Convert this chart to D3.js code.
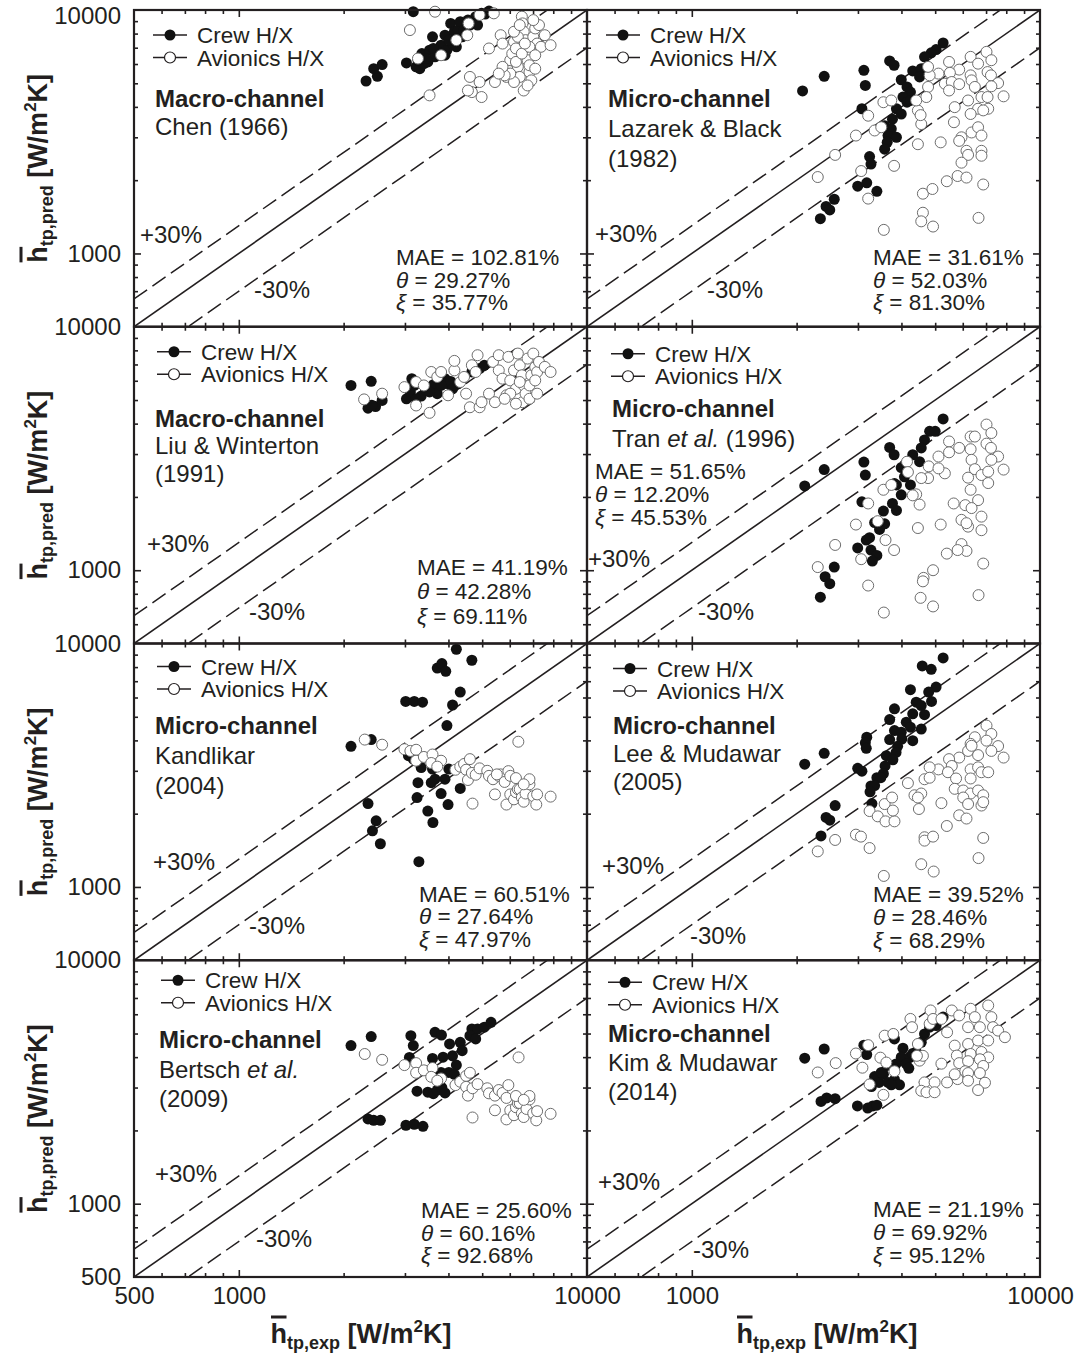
<!DOCTYPE html>
<html>
<head>
<meta charset="utf-8">
<style>
body { margin: 0; background: #fff; }
svg { display: block; }
svg text { font-family: "Liberation Sans", Arial, sans-serif; fill: #231f20; }
</style>
</head>
<body>
<svg width="1078" height="1358"></svg>
<script src="https://d3js.org/d3.v7.min.js"></script>
<script>

// ---- data: [h_exp, h_pred] in W/m2K ----
var crewChen = [[2320,5110],[2500,5340],[2440,5740],[2580,5970],[3030,6060],[3170,9840],[3230,5840],[3310,5740],[3355,6620],[3400,6020],[3530,6840],[3600,7760],[3660,6420],[3810,7170],[3910,7880],[3910,6520],[3960,6840],[4060,8810],[4110,7280],[4160,8140],[4270,8270],[4325,8950],[4380,7760],[4550,9090],[4610,8670],[4790,9390],[4850,8670],[4980,9690],[5100,9630],[5230,9900],[3270,6220],[3490,6120],[3715,6730],[4010,7520],[3440,6320],[4435,8270],[4215,7060],[3620,6950]];
var avioChen = [[3100,8270],[3660,9840],[3270,6320],[3810,6520],[4215,7520],[4530,7880],[4570,8810],[4915,9540],[5400,9690],[3530,4460],[4610,5310],[4670,4600],[4915,5060],[4980,4390],[4550,4670],[5230,6950],[5440,5060],[5650,7880],[5720,7280],[5870,5310],[5945,5650],[6020,6220],[6100,6620],[6170,7400],[6250,6950],[6330,5840],[6410,5310],[6500,9390],[6530,8810],[6580,8140],[6660,7520],[6750,6220],[6835,5560],[6920,5140],[7010,7760],[7100,8400],[7190,7280],[7280,8670],[7375,7060],[7565,7880],[7860,7170],[6580,4670],[6750,4900],[6170,5060],[6020,5480],[5800,5390],[6250,6120],[6500,6620],[6835,7060],[6330,7760],[6630,7280],[7100,6520],[6835,5930],[6170,8140],[7010,9090],[6410,8670],[5720,5840],[5580,5480],[7100,5740]];

var crewLazarek = [[2080,4650],[2400,5340],[3120,5650],[3150,4900],[3700,6180],[3810,5930],[3080,3930],[5270,7320],[5030,6880],[4870,6670],[4660,6420],[4310,5620],[4560,5740],[4510,5310],[3995,5170],[4150,4830],[4245,4600],[4040,4390],[4150,4180],[3870,3930],[3995,3740],[3770,3560],[3580,3350],[3740,3250],[3660,3050],[3870,3000],[3640,2860],[3580,2680],[3240,2500],[3270,2330],[2995,1890],[3180,1950],[3400,1800],[2565,1670],[2430,1560],[2490,1510],[2340,1390],[4245,4250]];
var avioLazarek = [[7020,6730],[7250,6220],[6320,6420],[5480,6120],[5860,5690],[6640,6020],[5110,5480],[5510,5520],[6320,5390],[7070,5560],[7230,5390],[7580,5010],[7860,4420],[6360,5140],[6500,4830],[7250,4860],[5330,4980],[5580,5060],[6790,4390],[7070,4390],[6215,4250],[6640,3930],[7100,3930],[5690,3990],[6320,3740],[6870,3870],[4770,4830],[4715,4390],[4460,3865],[4560,3400],[5660,3460],[4820,5390],[5480,4670],[5950,3000],[6360,3140],[6640,3300],[6790,3050],[5860,2900],[6150,2640],[6215,2540],[6790,2640],[6790,2520],[5950,2360],[5800,2080],[6150,2050],[5400,1980],[6870,1920],[5185,2860],[4460,2810],[4610,1760],[4910,1840],[4610,1470],[4560,1355],[4930,1290],[6660,1400],[3560,1250],[2300,2060],[2580,2540],[2960,3050],[3210,3680],[3550,4180],[3740,4250],[3350,3200],[3500,3300],[3810,2290],[3065,2180],[3210,1680],[4410,4250],[4540,3700],[4770,5840],[5860,4960]];

var crewLiu = [[2100,5740],[2400,5970],[2350,4630],[2470,4700],[2580,4980],[2410,4760],[3030,5060],[3140,6120],[3190,5740],[3340,5190],[3440,5480],[3620,5780],[3715,5310],[3910,6120],[3960,5840],[4060,5960],[4110,5560],[4270,5840],[4670,6520],[4915,6730],[5070,6940],[3810,5740],[3530,5400],[3110,5400],[3230,5060]];
var avioLiu = [[2290,5030],[2580,5310],[2990,5650],[3230,4750],[3230,5930],[3400,5740],[3530,4430],[3570,6520],[3715,6220],[3810,6520],[3990,5230],[4160,6620],[4160,7240],[4325,5930],[4435,6220],[4495,5310],[4610,4670],[4670,6950],[4850,7640],[4915,4670],[4980,4900],[4790,6520],[5230,5310],[5370,7170],[5440,4900],[5580,7640],[5580,6620],[5720,6120],[5945,7520],[5870,5230],[6020,6020],[6170,6620],[6250,5560],[6330,7760],[6410,6950],[6500,6320],[6530,4900],[6580,5740],[6660,5310],[6750,7400],[6835,5060],[6920,6320],[7010,7760],[7100,6830],[7190,6520],[7280,7170],[7565,6840],[7860,6520],[6835,5740],[6410,5930],[6020,5310],[5800,5060],[7100,6020],[6250,4830],[7190,5310]];

var crewTran = [[2110,2220],[2400,2590],[3120,2780],[3150,2460],[3700,3195],[3810,2980],[3080,1910],[5270,4180],[4820,3720],[5000,3720],[4660,3430],[4560,3180],[4310,2980],[4510,2790],[3995,2640],[4080,2420],[4245,2240],[3870,2240],[3995,2040],[3770,1880],[3870,1760],[3550,1750],[3580,1550],[3350,1570],[3460,1470],[3240,1360],[3170,1330],[2995,1235],[3270,1210],[3400,1150],[3300,1090],[2565,1030],[2415,940],[2490,880],[2340,775],[3820,2270]];
var avioTran = [[7020,3965],[7250,3660],[6320,3540],[6500,3540],[5480,3380],[5860,3180],[7020,3310],[7230,3180],[5110,2930],[5480,3050],[6320,3140],[7580,2930],[7860,2590],[6360,2840],[6500,2600],[7250,2840],[5330,2500],[6215,2400],[6790,2460],[7100,2540],[7100,2280],[6320,2140],[6640,1940],[5650,1880],[6100,1850],[6360,1800],[6790,1660],[6790,1460],[5950,1610],[6215,1510],[4790,2670],[4770,2390],[4560,2390],[4410,2050],[4510,1860],[4460,1490],[5185,1540],[5950,1280],[6150,1200],[5800,1210],[5400,1170],[6870,1065],[4930,1000],[4630,930],[4610,900],[4540,770],[4930,710],[6660,790],[3560,670],[3210,865],[2300,1030],[2580,1270],[2960,1540],[3210,1880],[3065,1110],[3550,2140],[3740,2240],[3420,1590],[3600,1330],[3810,1210],[4150,2790],[4175,2530],[4310,2030],[5110,2620],[6150,1560]];

var crewKandlikar = [[4215,9470],[4670,8535],[3715,7930],[3830,8270],[3930,7690],[3015,5780],[3190,5780],[3370,5740],[4110,5590],[4325,6320],[3960,4600],[2100,3780],[2400,4030],[3070,3460],[3170,3350],[3340,3095],[3600,3050],[4010,3050],[3660,2770],[3910,2770],[3270,2680],[3570,2680],[4325,2540],[3810,2420],[3250,2330],[2350,2200],[3990,2180],[3490,2050],[2480,1870],[3610,1840],[2420,1700],[2550,1505],[3290,1270]];
var avioKandlikar = [[2300,4030],[2580,3840],[2990,3680],[3110,3620],[3230,3660],[3230,3300],[3400,3420],[3600,3500],[3570,3230],[3810,3300],[3715,3120],[4190,3030],[4325,3120],[4435,3200],[4610,3350],[4495,3030],[4550,2750],[4670,2940],[4790,2890],[4915,3070],[4690,2200],[5170,3000],[5230,2860],[5370,2770],[5440,2400],[5580,2860],[5650,2900],[5800,2700],[5870,2180],[5945,2990],[6020,2400],[6170,2290],[6250,2450],[6330,2520],[6410,2520],[6500,2330],[6580,2240],[6660,2420],[6835,2640],[6835,2770],[7010,2360],[7150,2180],[7190,2400],[7860,2350],[6350,3950],[6020,2860],[6250,2800],[5510,2900],[6580,2640]];

var crewLee = [[5270,8725],[4590,8090],[4870,7835],[5030,6620],[4790,6320],[4245,6460],[4880,5780],[4410,5740],[3820,5390],[4310,5140],[4660,5100],[4560,5560],[3700,4870],[4130,4750],[4245,4530],[4560,4450],[3820,4390],[3995,4320],[3700,4030],[4010,4050],[4310,3990],[3180,4120],[3150,3910],[3170,3710],[3900,3780],[3860,3570],[3620,3460],[3780,3330],[2995,3070],[3080,2990],[3590,3140],[3550,2920],[3400,2810],[3490,2810],[3270,2600],[3350,2610],[3250,2460],[3290,2200],[2110,3195],[2400,3540],[2580,2160],[2430,1930],[2490,1880],[2350,1620]];
var avioLee = [[7020,4600],[6500,4120],[7250,4250],[7020,3990],[7580,3790],[7860,3400],[6320,3870],[6215,3620],[6360,3800],[6640,3480],[7250,3620],[5860,3400],[5480,3350],[5580,3140],[5110,3040],[5440,2960],[4820,3100],[5740,2790],[6320,3040],[6320,2790],[6640,3100],[6790,2960],[7100,2960],[4660,2770],[4820,2810],[4175,2670],[4360,2380],[4560,2420],[4460,2330],[5690,2530],[6020,2490],[6320,2420],[6640,2490],[6870,2380],[6020,2330],[6215,2190],[6790,2160],[6870,2230],[5210,2210],[4490,2090],[5860,1970],[6150,1910],[5400,1780],[4660,1600],[4660,1550],[4930,1610],[6870,1590],[6660,1314],[4560,1240],[4950,1157],[3560,1110],[3240,1445],[2960,1640],[3060,1610],[2580,1560],[2300,1400],[3240,2050],[3420,1950],[3600,1860],[3820,1860],[3580,2190],[3760,2330],[3780,2060]];

var crewBertsch = [[2100,4460],[2400,4860],[3120,4900],[3170,4460],[3660,5060],[3820,4930],[4030,4530],[4325,4600],[4670,5220],[4850,5220],[5070,5310],[5300,5560],[4610,4900],[4790,4750],[4380,4250],[4110,4050],[3860,4000],[3090,3990],[3600,3950],[4215,3710],[4010,3460],[3810,3460],[4160,3400],[3250,2900],[3490,2870],[3620,2830],[3715,2930],[3830,3000],[3910,2850],[2350,2230],[2440,2200],[2550,2200],[3020,2100],[3190,2120],[3380,2080]];
var avioBertsch = [[2300,4120],[2580,3900],[2990,3710],[3230,3780],[3230,3450],[3400,3530],[3600,3610],[3570,3320],[3810,3270],[3715,3200],[4190,3070],[4325,3170],[4495,3350],[4610,3450],[4495,3020],[4550,2780],[4690,2980],[4850,3100],[4690,2260],[5170,2980],[5230,2840],[5440,2780],[5440,2420],[5580,2930],[5720,2850],[5870,2720],[5870,2220],[5945,3070],[6020,2420],[6170,2310],[6250,2490],[6330,2590],[6410,2590],[6500,2350],[6580,2270],[6700,2450],[6835,2680],[6835,2770],[7010,2350],[7150,2200],[7190,2400],[7860,2340],[6360,3990],[6250,2770],[6580,2670]];

var crewKim = [[2110,3960],[2400,4320],[2350,2630],[2440,2720],[2580,2700],[2990,2520],[3200,2470],[3310,2520],[3400,2540],[3120,4480],[3180,4100],[3820,4750],[3350,3330],[3280,3030],[3450,3150],[3550,3400],[3660,3150],[3820,3230],[3950,3080],[3740,3080],[4040,4350],[3995,4000],[4245,4000],[3860,3750],[4130,3750],[4200,3600],[4310,4140],[4410,4200],[4660,4980],[4820,5310],[5030,5390],[5270,5840],[4560,4600],[3640,3700],[3500,3460],[3820,3620]];
var avioKim = [[2300,3460],[2590,3780],[2960,4140],[3090,3620],[3210,4480],[3240,3090],[3480,3980],[3550,2800],[3580,4900],[3620,3800],[3790,4980],[3820,3500],[4245,5740],[4290,5310],[4460,4530],[4510,3870],[4610,4050],[4850,6220],[4820,5480],[4930,5740],[5210,5740],[5410,5060],[5580,6220],[5860,5930],[6320,6320],[6500,5840],[7100,6520],[7250,5840],[6215,5310],[6720,5310],[7330,5310],[7580,5140],[7930,4830],[5690,4460],[6215,4530],[6640,4680],[7100,4680],[5770,4060],[6320,4120],[6790,4200],[7100,3990],[5210,3760],[5860,3780],[6215,3850],[6720,3920],[6870,3680],[6100,3500],[6215,3440],[6720,3440],[6950,3140],[4660,3150],[4980,3150],[5410,3150],[5800,3250],[6215,3200],[6640,2930],[4560,2910],[4720,2870],[4980,2870],[5690,3400],[4430,4050]];

var channelType = ["Macro-channel","Micro-channel","Macro-channel","Micro-channel","Micro-channel","Micro-channel","Micro-channel","Micro-channel"];
var authorLines = [["Chen (1966)"],["Lazarek & Black","(1982)"],["Liu & Winterton","(1991)"],["Tran <i>et al.</i> (1996)"],["Kandlikar","(2004)"],["Lee & Mudawar","(2005)"],["Bertsch <i>et al.</i>","(2009)"],["Kim & Mudawar","(2014)"]];
var maeVals = ["102.81","31.61","41.19","51.65","60.51","39.52","25.60","21.19"];
var thetaVals = ["29.27","52.03","42.28","12.20","27.64","28.46","60.16","69.92"];
var xiVals = ["35.77","81.30","69.11","45.53","47.97","68.29","92.68","95.12"];
var seriesNames = ["Crew H/X","Avionics H/X"];
var axisTicks = [500, 1000, 10000];
var minorTicks = [600,700,800,900,2000,3000,4000,5000,6000,7000,8000,9000];

var crewSets = [crewChen, crewLazarek, crewLiu, crewTran, crewKandlikar, crewLee, crewBertsch, crewKim];
var avioSets = [avioChen, avioLazarek, avioLiu, avioTran, avioKandlikar, avioLee, avioBertsch, avioKim];

// text placement inside each panel (panel-local pixels)
var layout = [
  {leg:[63,25], title:[21,97], lh:28, plus:[6,233], minus:[120,288], stats:[262,255], sd:22.5},
  {leg:[63,25], title:[21,97], lh:30, plus:[8,232], minus:[120,288], stats:[286,255], sd:22.5},
  {leg:[67,25], title:[21,100], lh:27.5, plus:[13,225], minus:[115,293], stats:[283,248], sd:24.5},
  {leg:[68,27], title:[25,90], lh:30, plus:[1,240], minus:[111,293], stats:[8,152], sd:23},
  {leg:[67,23], title:[21,90], lh:30, plus:[19,226], minus:[115,290], stats:[285,258], sd:22.5},
  {leg:[70,25], title:[26,90], lh:28, plus:[15,230], minus:[103,300], stats:[286,258], sd:23},
  {leg:[71,20], title:[25,88], lh:29.5, plus:[21,222], minus:[122,287], stats:[287,258], sd:22.5},
  {leg:[65,22], title:[21,82], lh:29, plus:[11,230], minus:[106,298], stats:[286,257], sd:23}
];

var svg = d3.select("svg");
var W = 453, H = 316.75, colX = [134, 587], top0 = 10, ink = "#231f20";

var x = d3.scaleLog().domain([500, 10000]).range([0, W]);
var y = d3.scaleLog().domain([500, 10000]).range([H, 0]);
var line = d3.line().x(function(d) { return x(d[0]); }).y(function(d) { return y(d[1]); });

svg.append("defs").append("clipPath")
    .attr("id", "clip")
  .append("rect")
    .attr("width", W)
    .attr("height", H);

function tickSide(g, axis, vals, len) {
  g.call(axis.tickValues(vals).tickSizeInner(-len).tickSizeOuter(0).tickFormat(""));
  g.select(".domain").remove();
  g.selectAll("line").attr("stroke", ink).attr("stroke-width", 1.6);
}

function richText(t, s) {
  s.split(/(<i>.*?<\/i>)/).forEach(function(part) {
    if (!part) return;
    var it = part.indexOf("<i>") === 0;
    t.append("tspan").attr("font-style", it ? "italic" : null).text(it ? part.slice(3, -4) : part);
  });
}

var panelGs = [];

crewSets.forEach(function(crew, i) {
  var col = i % 2, row = Math.floor(i / 2), lay = layout[i];
  var g = svg.append("g").attr("transform", "translate(" + colX[col] + "," + (top0 + row * H) + ")");
  panelGs.push(g);

  // parity and +/-30% lines
  var plot = g.append("g").attr("clip-path", "url(#clip)");
  plot.append("path").attr("d", line([[500, 500], [10000, 10000]]))
      .attr("fill", "none").attr("stroke", ink).attr("stroke-width", 1.6);
  [1.3, 0.7].forEach(function(f) {
    plot.append("path").attr("d", line([[500, 500 * f], [10000, 10000 * f]]))
        .attr("fill", "none").attr("stroke", ink).attr("stroke-width", 1.5)
        .attr("stroke-dasharray", "16,6.5");
  });

  // ticks on all four sides, pointing in
  tickSide(g.append("g"), d3.axisLeft(y), minorTicks, 4);
  tickSide(g.append("g"), d3.axisLeft(y), [1000], 7);
  tickSide(g.append("g").attr("transform", "translate(" + W + ",0)"), d3.axisRight(y), minorTicks, 4);
  tickSide(g.append("g").attr("transform", "translate(" + W + ",0)"), d3.axisRight(y), [1000], 7);
  tickSide(g.append("g"), d3.axisTop(x), minorTicks, 4);
  tickSide(g.append("g"), d3.axisTop(x), [1000], 7);
  tickSide(g.append("g").attr("transform", "translate(0," + H + ")"), d3.axisBottom(x), minorTicks, 4);
  tickSide(g.append("g").attr("transform", "translate(0," + H + ")"), d3.axisBottom(x), [1000], 7);

  // points: crew filled, avionics open on top
  g.append("g").selectAll("circle").data(crew).join("circle")
      .attr("cx", function(d) { return x(d[0]); })
      .attr("cy", function(d) { return y(d[1]); })
      .attr("r", 5.5)
      .attr("fill", "#111");
  g.append("g").selectAll("circle").data(avioSets[i]).join("circle")
      .attr("cx", function(d) { return x(d[0]); })
      .attr("cy", function(d) { return y(d[1]); })
      .attr("r", 5.5)
      .attr("fill", "#fff")
      .attr("stroke", "#6d6d6d")
      .attr("stroke-width", 1);

  // legend
  seriesNames.forEach(function(name, k) {
    var ly = lay.leg[1] + k * 22.5, cx = lay.leg[0] - 27;
    g.append("line").attr("x1", cx - 17).attr("x2", cx + 17).attr("y1", ly).attr("y2", ly)
        .attr("stroke", ink).attr("stroke-width", 1.6);
    g.append("circle").attr("cx", cx).attr("cy", ly).attr("r", 5.5)
        .attr("fill", k === 0 ? "#111" : "#fff").attr("stroke", k === 0 ? "none" : ink).attr("stroke-width", 1.2);
    g.append("text").attr("x", lay.leg[0]).attr("y", ly + 8).attr("font-size", 22.5).text(name);
  });

  // correlation name
  g.append("text").attr("x", lay.title[0]).attr("y", lay.title[1])
      .attr("font-size", 24).attr("font-weight", "bold").text(channelType[i]);
  authorLines[i].forEach(function(s, k) {
    var t = g.append("text").attr("x", lay.title[0]).attr("y", lay.title[1] + (k + 1) * lay.lh)
        .attr("font-size", 24);
    richText(t, s);
  });

  g.append("text").attr("x", lay.plus[0]).attr("y", lay.plus[1]).attr("font-size", 24).text("+30%");
  g.append("text").attr("x", lay.minus[0]).attr("y", lay.minus[1]).attr("font-size", 24).text("-30%");

  // error statistics
  var sx = lay.stats[0], sy = lay.stats[1];
  g.append("text").attr("x", sx).attr("y", sy).attr("font-size", 22.5).text("MAE = " + maeVals[i] + "%");
  var t2 = g.append("text").attr("x", sx).attr("y", sy + lay.sd).attr("font-size", 22.5);
  t2.append("tspan").attr("font-style", "italic").text("\u03b8");
  t2.append("tspan").text(" = " + thetaVals[i] + "%");
  var t3 = g.append("text").attr("x", sx).attr("y", sy + 2 * lay.sd).attr("font-size", 22.5);
  t3.append("tspan").attr("font-style", "italic").text("\u03be");
  t3.append("tspan").text(" = " + xiVals[i] + "%");

  // tick labels
  if (col === 0) {
    var ya = g.append("g").call(d3.axisLeft(y)
        .tickValues(row === 3 ? axisTicks : axisTicks.slice(1))
        .tickSize(0).tickPadding(13).tickFormat(d3.format("d")));
    ya.select(".domain").remove();
    ya.attr("font-size", 24).attr("font-family", null);
    ya.selectAll("text").attr("fill", ink)
        .attr("y", function(d) { return (row === 0 && d === 10000) ? 5.5 : 0; });
  }
  if (row === 3) {
    var xa = g.append("g").attr("transform", "translate(0," + H + ")").call(d3.axisBottom(x)
        .tickValues(col === 0 ? axisTicks : axisTicks.slice(1))
        .tickSize(0).tickPadding(10).tickFormat(d3.format("d")));
    xa.select(".domain").remove();
    xa.attr("font-size", 24).attr("font-family", null);
    xa.selectAll("text").attr("fill", ink);
  }
});

// panel frames on top
panelGs.forEach(function(g) {
  g.append("rect").attr("width", W).attr("height", H)
      .attr("fill", "none").attr("stroke", ink).attr("stroke-width", 2.2);
});

// axis titles with an overbar on h
function hTitle(g, sub) {
  var t = g.append("text").attr("text-anchor", "middle").attr("font-weight", "bold").attr("font-size", 27);
  t.append("tspan").text("h");
  t.append("tspan").attr("font-size", 18).attr("dy", 6).text(sub);
  t.append("tspan").attr("dy", -6).text(" [W/m");
  t.append("tspan").attr("font-size", 17).attr("dy", -11).text("2");
  t.append("tspan").attr("dy", 11).text("K]");
  var e = t.node().getExtentOfChar(0);
  g.append("rect").attr("x", e.x + 0.5).attr("y", e.y - 3.5)
      .attr("width", e.width - 1).attr("height", 3).attr("fill", ink);
}

for (var r = 0; r < 4; r++) {
  hTitle(svg.append("g").attr("transform", "translate(47," + (top0 + r * H + H / 2) + ") rotate(-90)"), "tp,pred");
}
hTitle(svg.append("g").attr("transform", "translate(361,1343)"), "tp,exp");
hTitle(svg.append("g").attr("transform", "translate(827,1343)"), "tp,exp");

</script>
</body>
</html>
